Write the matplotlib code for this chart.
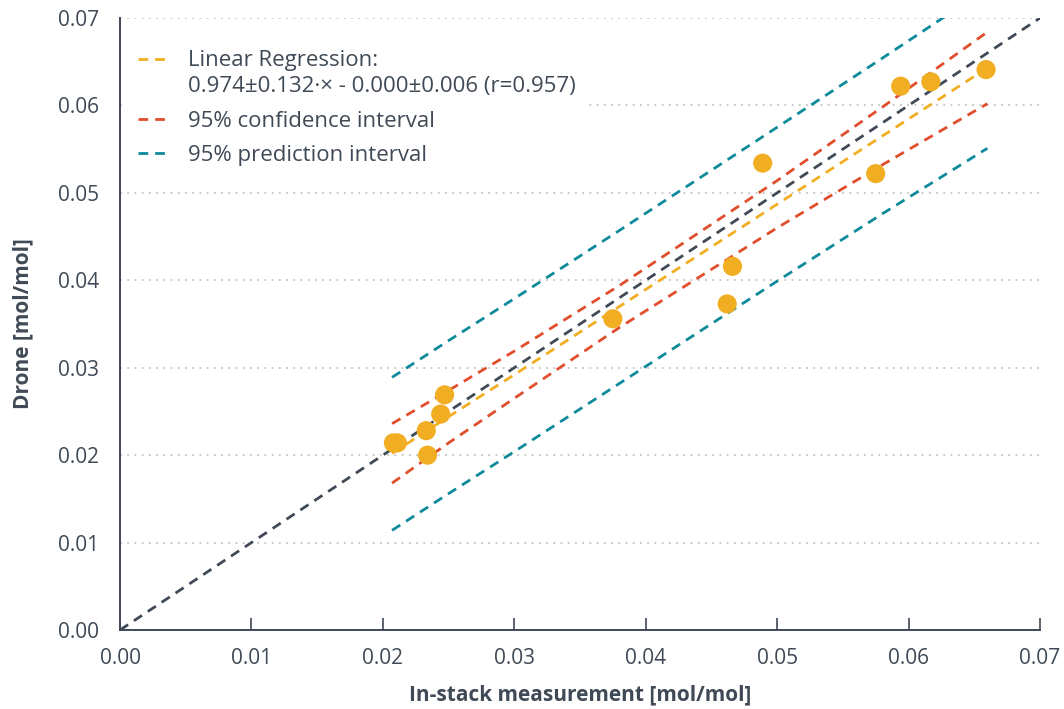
import numpy as np
import matplotlib
matplotlib.use("Agg")
import matplotlib.pyplot as plt
from matplotlib.legend_handler import HandlerLine2D

# measured points (in-stack vs drone)
instack = [0.0208, 0.0211, 0.0233, 0.0234, 0.0244, 0.0247, 0.0375,
           0.0462, 0.0466, 0.0489, 0.0575, 0.0594, 0.0617, 0.0659]
drone = [0.0214, 0.0214, 0.0228, 0.0200, 0.0247, 0.0269, 0.0356,
         0.0373, 0.0416, 0.0534, 0.0522, 0.0622, 0.0627, 0.0641]

# regression line and bands, read at a few x positions
band_x = [0.0207, 0.025, 0.030, 0.038, 0.050, 0.058, 0.066]
fit_y = [0.0202, 0.0244, 0.0292, 0.0370, 0.0487, 0.0565, 0.0643]
conf_hi = [0.0236, 0.0274, 0.0319, 0.0394, 0.0514, 0.0598, 0.0684]
conf_lo = [0.0168, 0.0214, 0.0265, 0.0346, 0.0460, 0.0532, 0.0602]
pred_hi = [0.0289, 0.0331, 0.0379, 0.0457, 0.0575, 0.0654, 0.0734]
pred_lo = [0.0114, 0.0156, 0.0204, 0.0282, 0.0399, 0.0476, 0.0551]

identity = [0.0, 0.07]
ticks = [0.00, 0.01, 0.02, 0.03, 0.04, 0.05, 0.06, 0.07]

TEXT = "#3f4a56"
YELLOW = "#f2ae22"
RED = "#e04e2b"
TEAL = "#0e8a9a"

plt.rcParams["font.family"] = ["Open Sans", "DejaVu Sans"]


class FirstLineHandler(HandlerLine2D):
    # put the handle next to the first line of a two-line label
    def create_artists(self, legend, orig_handle, xdescent, ydescent,
                       width, height, fontsize, trans):
        shift = 0.68 * fontsize
        return super().create_artists(legend, orig_handle, xdescent,
                                      ydescent - 2 * shift, width, height,
                                      fontsize, trans)


fig = plt.figure(figsize=(10.64, 7.09), dpi=100)
ax = fig.add_axes([0.1128, 0.1114, 0.8646, 0.8632])

dash = (0, (3.5, 2.5))
ax.plot(identity, identity, color=TEXT, lw=2, ls=dash, zorder=2)
fit_line, = ax.plot(band_x, fit_y, color=YELLOW, lw=2, ls=dash, zorder=3,
                    label="Linear Regression:\n0.974±0.132·× - 0.000±0.006 (r=0.957)")
ax.plot(band_x, conf_hi, color=RED, lw=2, ls=dash, zorder=3,
        label="95% confidence interval")
ax.plot(band_x, conf_lo, color=RED, lw=2, ls=dash, zorder=3)
ax.plot(band_x, pred_hi, color=TEAL, lw=2, ls=dash, zorder=3,
        label="95% prediction interval")
ax.plot(band_x, pred_lo, color=TEAL, lw=2, ls=dash, zorder=3)
ax.scatter(instack, drone, s=190, color=YELLOW, edgecolors="none", zorder=4)

ax.set_xlim(0, 0.07)
ax.set_ylim(0, 0.07)
ax.set_xticks(ticks)
ax.set_yticks(ticks)
ax.xaxis.set_major_formatter(matplotlib.ticker.FormatStrFormatter("%.2f"))
ax.yaxis.set_major_formatter(matplotlib.ticker.FormatStrFormatter("%.2f"))
ax.tick_params(axis="x", direction="in", length=9, width=1.2, color=TEXT,
               labelsize=15, labelcolor=TEXT, pad=13)
ax.tick_params(axis="y", length=0, labelsize=15, labelcolor=TEXT, pad=15)

ax.yaxis.grid(True, color="#c4c4c4", ls=(0, (1, 3)), lw=1.3, zorder=0)
ax.xaxis.grid(False)
for side in ("top", "right"):
    ax.spines[side].set_visible(False)
for side in ("left", "bottom"):
    ax.spines[side].set_color(TEXT)
    ax.spines[side].set_linewidth(1.4)

ax.set_xlabel("In-stack measurement [mol/mol]", fontsize=15, fontweight="bold",
              color=TEXT, labelpad=11)
ax.set_ylabel("Drone [mol/mol]", fontsize=15, fontweight="bold",
              color=TEXT, labelpad=18)

leg = ax.legend(loc="upper left", bbox_to_anchor=(0.0, 0.977), fontsize=16,
                frameon=True, framealpha=1, edgecolor="none", handlelength=1.5,
                handletextpad=0.75, labelspacing=0.6, borderpad=0.5,
                borderaxespad=0.3, handler_map={fit_line: FirstLineHandler()})
for t in leg.get_texts():
    t.set_color(TEXT)
    t.set_linespacing(1.35)

fig.savefig("out.png", dpi=100)
plt.close(fig)
